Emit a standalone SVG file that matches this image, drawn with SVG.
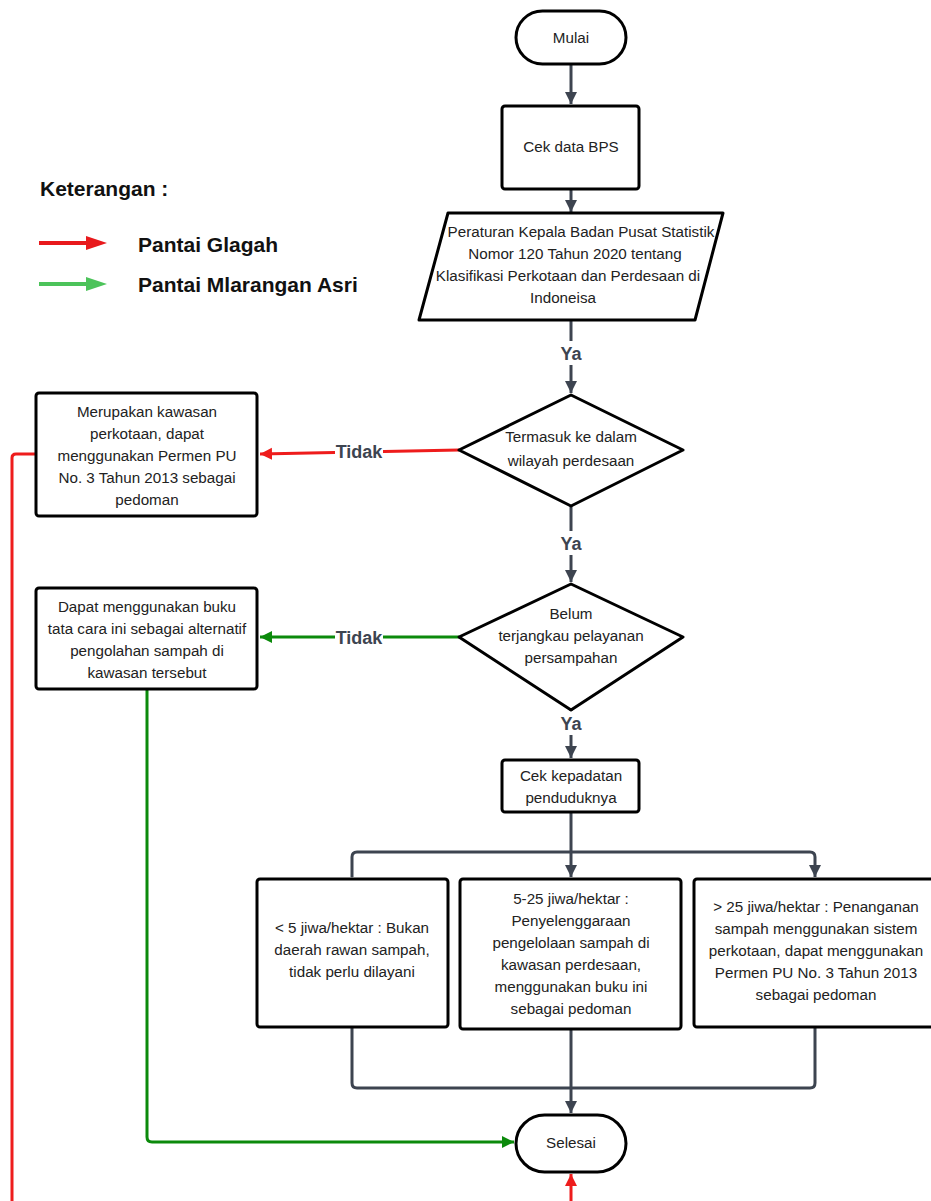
<svg xmlns="http://www.w3.org/2000/svg" width="931" height="1201" viewBox="0 0 931 1201">
<defs>
<style>
.node{fill:#fff;stroke:#000;stroke-width:3;stroke-linejoin:round}
.t{font-family:"Liberation Sans",Arial,sans-serif;font-size:15.2px;fill:#222;text-anchor:middle}
.c{fill:none;stroke:#3d4450;stroke-width:3;stroke-linejoin:round}
.red{fill:none;stroke:#ee1c1c;stroke-width:3;stroke-linejoin:round}
.green{fill:none;stroke:#0b8a0b;stroke-width:3;stroke-linejoin:round}
.lbl{font-family:"Liberation Sans",Arial,sans-serif;font-size:18px;font-weight:bold;fill:#3d4450;text-anchor:middle}
.leg{font-family:"Liberation Sans",Arial,sans-serif;font-weight:bold;fill:#111}
</style>
<marker id="ad" markerUnits="userSpaceOnUse" markerWidth="14" markerHeight="14" refX="12" refY="6" orient="auto"><path d="M0,0 L12,6 L0,12 Z" fill="#3d4450"/></marker>
<marker id="ar" markerUnits="userSpaceOnUse" markerWidth="14" markerHeight="14" refX="12" refY="6" orient="auto"><path d="M0,0 L12,6 L0,12 Z" fill="#ee1c1c"/></marker>
<marker id="ag" markerUnits="userSpaceOnUse" markerWidth="14" markerHeight="14" refX="12" refY="6" orient="auto"><path d="M0,0 L12,6 L0,12 Z" fill="#0b8a0b"/></marker>
</defs>
<rect width="931" height="1201" fill="#fff"/>

<g id="legend">
<text class="leg" x="40" y="196" font-size="21">Keterangan :</text>
<line x1="39" y1="243" x2="90" y2="243" stroke="#e8191c" stroke-width="4"/>
<path d="M86,236 L107,243 L86,250 Z" fill="#e8191c"/>
<text class="leg" x="138" y="252" font-size="21">Pantai Glagah</text>
<line x1="39" y1="284" x2="90" y2="284" stroke="#4cc35a" stroke-width="4"/>
<path d="M86,277 L107,284 L86,291 Z" fill="#4cc35a"/>
<text class="leg" x="138" y="292" font-size="21">Pantai Mlarangan Asri</text>
</g>

<g id="connectors">
<line class="c" x1="571" y1="64" x2="571" y2="104" marker-end="url(#ad)"/>
<line class="c" x1="571" y1="189" x2="571" y2="212" marker-end="url(#ad)"/>
<line class="c" x1="571" y1="320" x2="571" y2="393" marker-end="url(#ad)"/>
<line class="c" x1="571" y1="506" x2="571" y2="582" marker-end="url(#ad)"/>
<line class="c" x1="571" y1="710" x2="571" y2="758" marker-end="url(#ad)"/>
<line class="c" x1="571" y1="812" x2="571" y2="877" marker-end="url(#ad)"/>
<path class="c" d="M352,877 V857 Q352,852 357,852 H810 Q815,852 815,857 V877" marker-start="url(#ad)" marker-end="url(#ad)"/>
<path class="c" d="M352,1027 V1083 Q352,1088 357,1088 H810 Q815,1088 815,1083 V1027"/>
<line class="c" x1="571" y1="1030" x2="571" y2="1113" marker-end="url(#ad)"/>
<path class="red" d="M459,450 L260,454" marker-end="url(#ar)"/>
<path class="red" d="M36,454 H16 Q12,454 12,458 V1215 H571 V1174" marker-end="url(#ar)"/>
<path class="green" d="M459,637 H260" marker-end="url(#ag)"/>
<path class="green" d="M147,689 V1137 Q147,1142 152,1142 H514" marker-end="url(#ag)"/>
<rect x="554" y="341" width="34" height="24" fill="#fff"/>
<text class="lbl" x="571" y="360">Ya</text>
<rect x="554" y="531" width="34" height="24" fill="#fff"/>
<text class="lbl" x="571" y="550">Ya</text>
<rect x="554" y="711" width="34" height="24" fill="#fff"/>
<text class="lbl" x="571" y="730">Ya</text>
<rect x="335" y="440" width="48" height="22" fill="#fff"/>
<text class="lbl" x="359" y="458">Tidak</text>
<rect x="335" y="627" width="48" height="22" fill="#fff"/>
<text class="lbl" x="359" y="644">Tidak</text>
</g>

<g id="mulai">
<rect class="node" x="516" y="11" width="110" height="53" rx="26.5"/>
<text class="t" x="571" y="43">Mulai</text>
</g>
<g id="cek-bps">
<rect class="node" x="502" y="106" width="137" height="83" rx="3"/>
<text class="t" x="571" y="152">Cek data BPS</text>
</g>
<g id="peraturan">
<path class="node" d="M448,213 H723 L695,320 H419 Z"/>
<text class="t" x="581" y="237">Peraturan Kepala Badan Pusat Statistik</text>
<text class="t" x="575" y="259">Nomor 120 Tahun 2020 tentang</text>
<text class="t" x="568" y="281">Klasifikasi Perkotaan dan Perdesaan di</text>
<text class="t" x="563" y="303">Indoneisa</text>
</g>
<g id="diamond1">
<path class="node" d="M571,395 L683,450 L571,506 L459,450 Z"/>
<text class="t" x="571" y="442">Termasuk ke dalam</text>
<text class="t" x="571" y="466">wilayah perdesaan</text>
</g>
<g id="kota">
<rect class="node" x="36" y="393" width="221" height="123" rx="3"/>
<text class="t" x="147" y="417">Merupakan kawasan</text>
<text class="t" x="147" y="439">perkotaan, dapat</text>
<text class="t" x="147" y="461">menggunakan Permen PU</text>
<text class="t" x="147" y="483">No. 3 Tahun 2013 sebagai</text>
<text class="t" x="147" y="505">pedoman</text>
</g>
<g id="diamond2">
<path class="node" d="M571,584 L683,637 L571,710 L459,637 Z"/>
<text class="t" x="571" y="619">Belum</text>
<text class="t" x="571" y="641">terjangkau pelayanan</text>
<text class="t" x="571" y="663">persampahan</text>
</g>
<g id="alternatif">
<rect class="node" x="36" y="588" width="221" height="101" rx="3"/>
<text class="t" x="147" y="612">Dapat menggunakan buku</text>
<text class="t" x="147" y="634">tata cara ini sebagai alternatif</text>
<text class="t" x="147" y="656">pengolahan sampah di</text>
<text class="t" x="147" y="678">kawasan tersebut</text>
</g>
<g id="kepadatan">
<rect class="node" x="502" y="760" width="137" height="52" rx="3"/>
<text class="t" x="571" y="781">Cek kepadatan</text>
<text class="t" x="571" y="803">penduduknya</text>
</g>
<g id="box-a">
<rect class="node" x="257" y="879" width="191" height="148" rx="3"/>
<text class="t" x="352" y="933">&lt; 5 jiwa/hektar : Bukan</text>
<text class="t" x="352" y="955">daerah rawan sampah,</text>
<text class="t" x="352" y="977">tidak perlu dilayani</text>
</g>
<g id="box-b">
<rect class="node" x="460" y="879" width="221" height="150" rx="3"/>
<text class="t" x="571" y="904">5-25 jiwa/hektar :</text>
<text class="t" x="571" y="926">Penyelenggaraan</text>
<text class="t" x="571" y="948">pengelolaan sampah di</text>
<text class="t" x="571" y="970">kawasan perdesaan,</text>
<text class="t" x="571" y="992">menggunakan buku ini</text>
<text class="t" x="571" y="1014">sebagai pedoman</text>
</g>
<g id="box-c">
<rect class="node" x="694" y="879" width="245" height="148" rx="3"/>
<text class="t" x="816" y="912">&gt; 25 jiwa/hektar : Penanganan</text>
<text class="t" x="816" y="934">sampah menggunakan sistem</text>
<text class="t" x="816" y="956">perkotaan, dapat menggunakan</text>
<text class="t" x="816" y="978">Permen PU No. 3 Tahun 2013</text>
<text class="t" x="816" y="1000">sebagai pedoman</text>
</g>
<g id="selesai">
<rect class="node" x="516" y="1115" width="110" height="57" rx="28.5"/>
<text class="t" x="571" y="1148">Selesai</text>
</g>
</svg>
